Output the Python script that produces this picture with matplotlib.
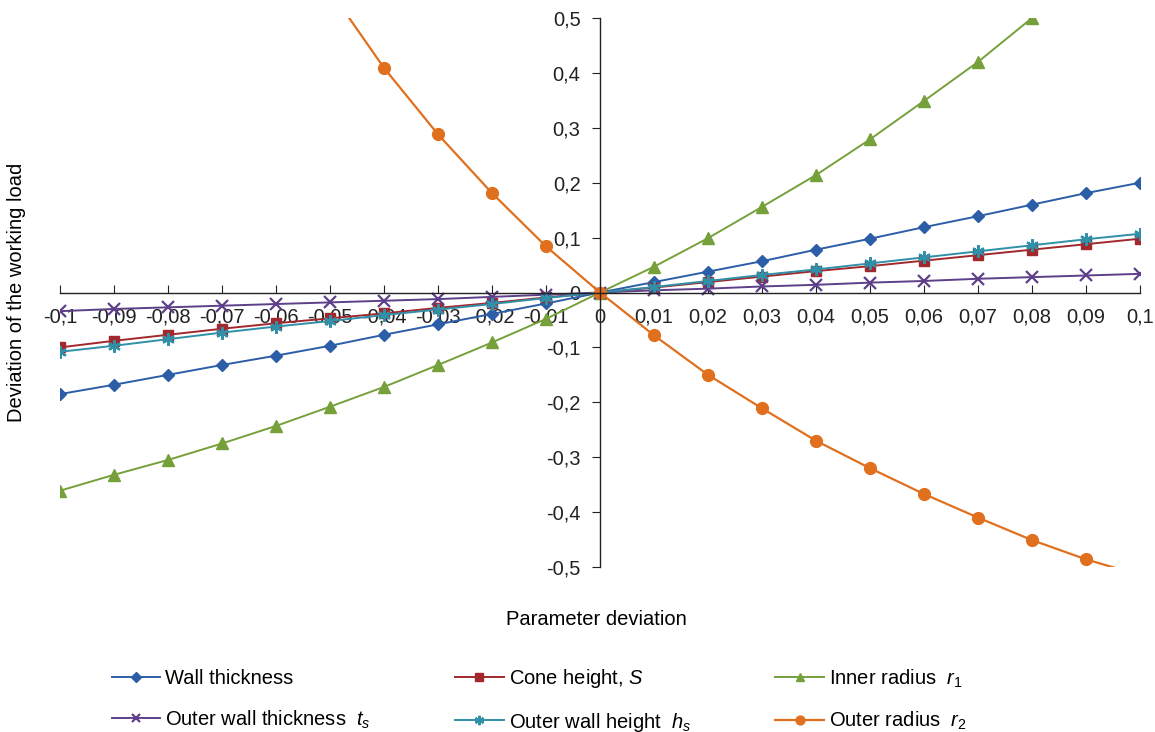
import numpy as np
import matplotlib
matplotlib.use("Agg")
import matplotlib.pyplot as plt
from matplotlib.ticker import FuncFormatter, MultipleLocator

plt.rcParams['font.family'] = ['Liberation Sans', 'DejaVu Sans']
plt.rcParams['mathtext.fontset'] = 'custom'
plt.rcParams['mathtext.rm'] = 'Liberation Sans'
plt.rcParams['mathtext.it'] = 'Liberation Sans:italic'

# parameter deviation (x axis)
x = [-0.1, -0.09, -0.08, -0.07, -0.06, -0.05, -0.04, -0.03, -0.02, -0.01, 0,
     0.01, 0.02, 0.03, 0.04, 0.05, 0.06, 0.07, 0.08, 0.09, 0.1]

# deviation of the working load
wall_thickness = [-0.185, -0.168, -0.150, -0.132, -0.115, -0.097, -0.077, -0.058, -0.039, -0.020, 0,
                  0.019, 0.038, 0.057, 0.078, 0.098, 0.119, 0.139, 0.160, 0.181, 0.200]
cone_height = [-0.100, -0.088, -0.077, -0.066, -0.056, -0.047, -0.038, -0.028, -0.019, -0.009, 0,
               0.009, 0.019, 0.029, 0.039, 0.048, 0.058, 0.068, 0.078, 0.088, 0.098]
inner_radius = [-0.361, -0.332, -0.305, -0.275, -0.243, -0.208, -0.172, -0.132, -0.091, -0.048, 0,
                0.047, 0.099, 0.156, 0.214, 0.279, 0.349, 0.420, 0.500, 0.585, 0.675]
outer_wall_thickness = [-0.034, -0.030, -0.027, -0.024, -0.021, -0.018, -0.015, -0.012, -0.008, -0.004, 0,
                        0.004, 0.007, 0.011, 0.014, 0.018, 0.021, 0.025, 0.028, 0.031, 0.034]
outer_wall_height = [-0.108, -0.097, -0.085, -0.073, -0.062, -0.052, -0.041, -0.031, -0.021, -0.010, 0,
                     0.010, 0.021, 0.032, 0.042, 0.053, 0.064, 0.075, 0.086, 0.097, 0.107]
outer_radius = [1.40, 1.21, 1.03, 0.86, 0.70, 0.55, 0.409, 0.288, 0.181, 0.084, 0,
                -0.078, -0.150, -0.211, -0.270, -0.320, -0.367, -0.410, -0.451, -0.486, -0.515]

fs = 14.5

fig = plt.figure(figsize=(11.55, 7.32), dpi=100)
ax = fig.add_axes([0.052, 0.2254, 0.935, 0.75])

h1, = ax.plot(x, wall_thickness, color='#2c5ea8', marker='D', ms=6.5, lw=1.4, label='Wall thickness')
h2, = ax.plot(x, cone_height, color='#a2282e', marker='s', ms=7, lw=1.4, label='Cone height, $S$')
h3, = ax.plot(x, inner_radius, color='#76a03a', marker='^', ms=8.5, lw=1.4, label='Inner radius  $r_1$')
h4, = ax.plot(x, outer_wall_thickness, color='#5d3f8a', marker='x', ms=8.5, mew=1.6, lw=1.4,
              label='Outer wall thickness  $t_s$')
h5, = ax.plot(x, outer_wall_height, color='#2f90a8', marker=(6, 2, 0), ms=9, mew=1.6, lw=1.4,
              label='Outer wall height  $h_s$')
h6, = ax.plot(x, outer_radius, color='#e0701e', marker='o', ms=8.5, lw=1.6, label='Outer radius  $r_2$')

ax.set_xlim(-0.1, 0.1)
ax.set_ylim(-0.5, 0.5)

# axes crossing at the origin
ax.spines['left'].set_position(('data', 0))
ax.spines['bottom'].set_position(('data', 0))
ax.spines['top'].set_visible(False)
ax.spines['right'].set_visible(False)
for s in ['left', 'bottom']:
    ax.spines[s].set_color('#222222')
    ax.spines[s].set_linewidth(1.0)

def comma_fmt(v, pos):
    v = round(v, 2)
    if abs(v) < 1e-9:
        return '0'
    return ('%g' % v).replace('.', ',')

ax.xaxis.set_major_locator(MultipleLocator(0.01))
ax.yaxis.set_major_locator(MultipleLocator(0.1))
ax.xaxis.set_major_formatter(FuncFormatter(comma_fmt))
ax.yaxis.set_major_formatter(FuncFormatter(comma_fmt))
ax.tick_params(axis='x', direction='in', length=6, pad=11, labelsize=fs, colors='#222222')
ax.tick_params(axis='y', direction='out', length=6, pad=8, labelsize=fs, colors='#222222')

ax.set_ylabel('Deviation of the working load', fontsize=fs)
ax.yaxis.set_label_coords(-0.032, 0.5)
ax.set_xlabel('Parameter deviation', fontsize=fs)
ax.xaxis.set_label_coords(0.497, -0.078)

handles = [h1, h4, h2, h5, h3, h6]
fig.legend(handles=handles, labels=[h.get_label() for h in handles], ncol=3,
           loc='upper left', bbox_to_anchor=(0.088, 0.102), frameon=False,
           fontsize=fs, handlelength=2.4, handletextpad=0.25, columnspacing=4.2,
           labelspacing=1.0, borderpad=0, markerscale=0.75)

fig.savefig('out.png', dpi=100)
